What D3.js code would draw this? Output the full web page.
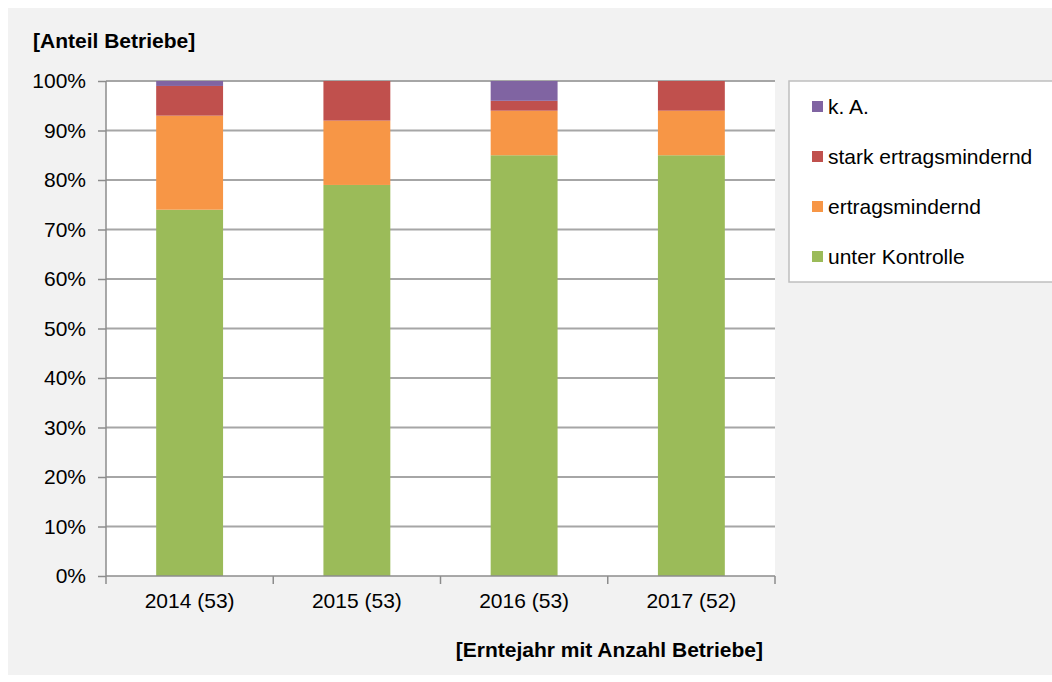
<!DOCTYPE html>
<meta charset="utf-8" />
<style>
  body { margin: 0; background: #fff; }
  text { font-family: "Liberation Sans", Arial, sans-serif; fill: #000; }
  .grid line { stroke: #a6a6a6; stroke-width: 2px; }
  .axis path, .axis line { stroke: #8c8c8c; stroke-width: 1.5px; }
  .axis text { font-size: 21px; }
  .title { font-size: 21px; font-weight: bold; }
  .legend text { font-size: 21px; }
</style>
<body>
  <script src="https://d3js.org/d3.v7.min.js"></script>
  <script>
    // categories and series (percent of farms)
    var years = ['2014 (53)', '2015 (53)', '2016 (53)', '2017 (52)'];
    var unterKontrolle = [74, 79, 85, 85];
    var ertragsmindernd = [19, 13, 9, 9];
    var starkErtragsmindernd = [6, 8, 2, 6];
    var keineAngabe = [1, 0, 4, 0];
    var seriesNames = ['unter Kontrolle', 'ertragsmindernd', 'stark ertragsmindernd', 'k. A.'];
    var seriesColors = ['#9bbb59', '#f79646', '#c0504d', '#8064a2'];
    var yTicks = [0, 10, 20, 30, 40, 50, 60, 70, 80, 90, 100];

    var W = 1052, H = 682;
    var margin = { top: 81, right: 277, bottom: 106, left: 106 },
      width = W - margin.left - margin.right,
      height = H - margin.top - margin.bottom;

    var svg = d3.select('body').append('svg')
      .attr('width', W)
      .attr('height', H);

    // chart background
    svg.append('rect')
      .attr('x', 8).attr('y', 8)
      .attr('width', W - 8).attr('height', H - 15)
      .attr('fill', '#f2f2f2');

    var g = svg.append('g')
      .attr('transform', 'translate(' + margin.left + ',' + margin.top + ')');

    g.append('rect')
      .attr('width', width).attr('height', height)
      .attr('fill', '#fff');

    var x = d3.scaleBand().domain(years).range([0, width]).paddingInner(0.6).paddingOuter(0.3);
    var y = d3.scaleLinear().domain([0, 100]).range([height, 0]);

    // gridlines
    g.append('g').attr('class', 'grid')
      .selectAll('line')
      .data(yTicks.filter(function(d) { return d > 0; }))
      .enter().append('line')
      .attr('x1', 0).attr('x2', width)
      .attr('y1', function(d) { return y(d); })
      .attr('y2', function(d) { return y(d); });

    // stacked data
    var rows = years.map(function(yr, i) {
      return {
        year: yr,
        'unter Kontrolle': unterKontrolle[i],
        'ertragsmindernd': ertragsmindernd[i],
        'stark ertragsmindernd': starkErtragsmindernd[i],
        'k. A.': keineAngabe[i]
      };
    });
    var stack = d3.stack().keys(seriesNames)(rows);

    g.selectAll('.series')
      .data(stack)
      .enter().append('g')
      .attr('fill', function(d, i) { return seriesColors[i]; })
      .selectAll('rect')
      .data(function(d) { return d; })
      .enter().append('rect')
      .attr('x', function(d) { return x(d.data.year); })
      .attr('width', x.bandwidth())
      .attr('y', function(d) { return y(d[1]); })
      .attr('height', function(d) { return y(d[0]) - y(d[1]); });

    // y axis
    var yAxis = g.append('g').attr('class', 'axis')
      .call(d3.axisLeft(y).tickValues(yTicks).tickSize(8).tickPadding(12)
        .tickFormat(function(d) { return d + '%'; }));
    yAxis.select('.domain').attr('d', 'M0,' + height + 'V0');

    // x axis with ticks between categories
    var xAxis = g.append('g').attr('class', 'axis')
      .attr('transform', 'translate(0,' + height + ')');
    xAxis.append('line').attr('x1', 0).attr('x2', width);
    var step = width / years.length;
    d3.range(years.length + 1).forEach(function(i) {
      xAxis.append('line')
        .attr('x1', i * step).attr('x2', i * step)
        .attr('y1', 0).attr('y2', 8);
    });
    xAxis.selectAll('text.lab')
      .data(years)
      .enter().append('text')
      .attr('class', 'lab')
      .attr('x', function(d) { return x(d) + x.bandwidth() / 2; })
      .attr('y', 32)
      .attr('text-anchor', 'middle')
      .text(function(d) { return d; });

    // titles
    svg.append('text').attr('class', 'title')
      .attr('x', 33).attr('y', 48)
      .text('[Anteil Betriebe]');
    svg.append('text').attr('class', 'title')
      .attr('x', 763).attr('y', 657)
      .attr('text-anchor', 'end')
      .text('[Erntejahr mit Anzahl Betriebe]');

    // legend
    var legend = svg.append('g').attr('class', 'legend');
    legend.append('rect')
      .attr('x', 789).attr('y', 81)
      .attr('width', 270).attr('height', 201)
      .attr('fill', '#fff')
      .attr('stroke', '#bfbfbf')
      .attr('stroke-width', 1.5);
    var legendOrder = [3, 2, 1, 0];
    var ly = d3.scalePoint().domain(legendOrder).range([107, 257]);
    legendOrder.forEach(function(k) {
      legend.append('rect')
        .attr('x', 812).attr('y', ly(k) - 6)
        .attr('width', 11).attr('height', 11)
        .attr('fill', seriesColors[k]);
      legend.append('text')
        .attr('x', 828).attr('y', ly(k) + 7)
        .text(seriesNames[k]);
    });
  </script>
</body>
